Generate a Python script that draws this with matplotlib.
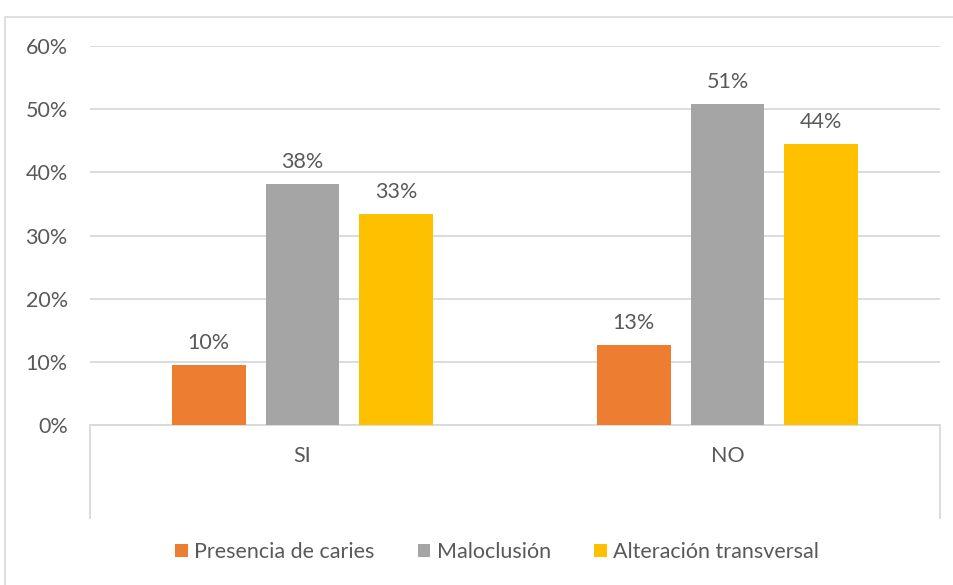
import matplotlib.pyplot as plt
import numpy as np
from matplotlib.patches import Rectangle

# ==============================
# DATA
# ==============================
categories = ["SI", "NO"]
series_names = ["Presencia de caries", "Maloclusión", "Alteración transversal"]
caries = [9.5, 12.7]
maloclusion = [38.1, 50.8]
alteracion = [33.4, 44.5]
labels_caries = ["10%", "13%"]
labels_malo = ["38%", "51%"]
labels_alt = ["33%", "44%"]
yticks = [0, 10, 20, 30, 40, 50, 60]

colors = ["#ED7D31", "#A5A5A5", "#FFC000"]
text_color = "#595959"
grid_color = "#D9D9D9"
fs = 15.5

plt.rcParams['font.family'] = ['Lato', 'DejaVu Sans']

fig = plt.figure(figsize=(9.54, 5.85), dpi=100)
ax = fig.add_axes([90 / 954, 1 - 425 / 585, 850 / 954, 379 / 585])

# outer chart border
fig.patches.append(Rectangle((5 / 954, -0.1), 1.1, 1 - 17 / 585 + 0.1,
                             transform=fig.transFigure, fill=False,
                             edgecolor="#D9D9D9", linewidth=1.2))

x = np.arange(len(categories))
width = 0.174
offset = 0.221

series = [caries, maloclusion, alteracion]
labels = [labels_caries, labels_malo, labels_alt]
for i, (vals, labs) in enumerate(zip(series, labels)):
    pos = x + (i - 1) * offset
    ax.bar(pos, vals, width, color=colors[i], label=series_names[i], zorder=3)
    for p, v, lab in zip(pos, vals, labs):
        ax.text(p, v + 1.9, lab, ha="center", va="bottom",
                fontsize=fs, color=text_color)

ax.set_xlim(-0.5, 1.5)
ax.set_ylim(0, 60)
ax.set_yticks(yticks)
ax.set_yticklabels([f"{t}%" for t in yticks], fontsize=fs, color=text_color)
ax.set_xticks(x)
ax.set_xticklabels(categories, fontsize=fs, color=text_color)
ax.tick_params(axis="both", length=0)
ax.tick_params(axis="x", pad=15)
ax.tick_params(axis="y", pad=16)

ax.grid(axis="y", color=grid_color, linewidth=1.3, zorder=0)
for s in ["top", "right", "left"]:
    ax.spines[s].set_visible(False)
ax.spines["bottom"].set_color(grid_color)
ax.spines["bottom"].set_linewidth(1.3)

# category boundary lines below the axis
for xb in [0, 1]:
    ax.plot([xb, xb], [0, -93 / 379], transform=ax.transAxes,
            color=grid_color, linewidth=1.3, clip_on=False)

leg = fig.legend(loc="center", bbox_to_anchor=(497 / 954, 1 - 552 / 585),
                 ncol=3, frameon=False, fontsize=fs, handlelength=0.6,
                 handleheight=0.6, columnspacing=2.0, handletextpad=0.3)
for t in leg.get_texts():
    t.set_color(text_color)

fig.savefig("out.png", dpi=100)
